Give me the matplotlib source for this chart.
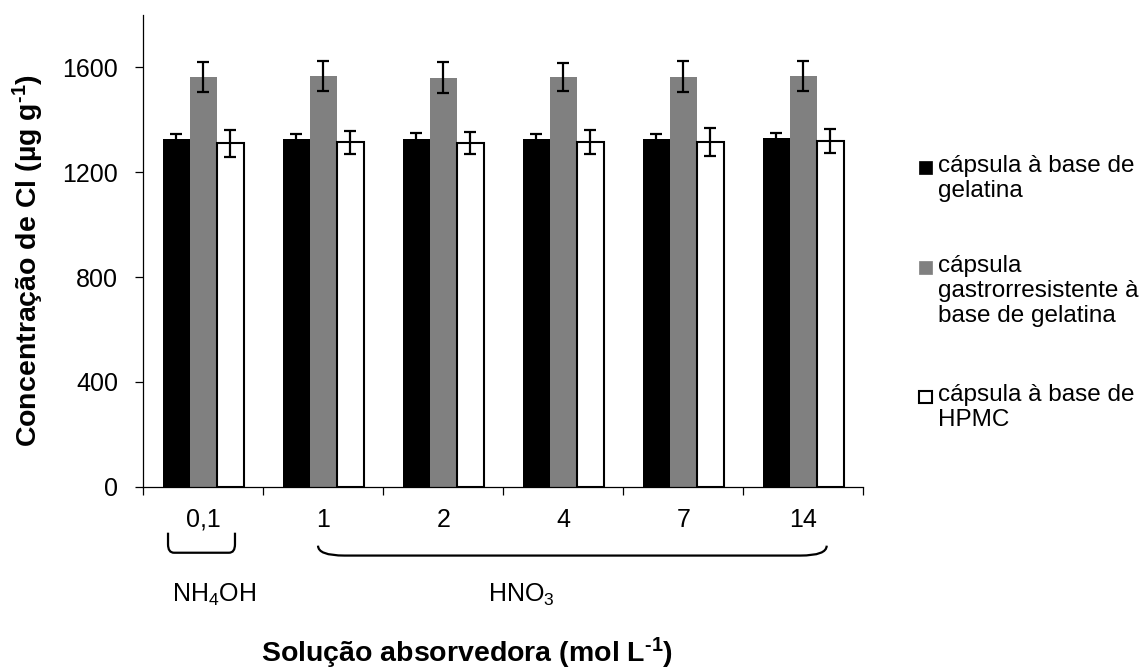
import numpy as np
import matplotlib
matplotlib.use("Agg")
import matplotlib.pyplot as plt
from matplotlib.path import Path
from matplotlib.patches import PathPatch, Rectangle
from matplotlib.transforms import blended_transform_factory

plt.rcParams.update({
    "font.family": ["Liberation Sans", "DejaVu Sans"],
    "mathtext.fontset": "custom",
    "mathtext.rm": "Liberation Sans",
    "mathtext.it": "Liberation Sans:italic",
    "mathtext.bf": "Liberation Sans:bold",
})

# ---- data ----
CONC = ["0,1", "1", "2", "4", "7", "14"]
SERIES = ["cápsula à base de\ngelatina",
          "cápsula\ngastrorresistente à\nbase de gelatina",
          "cápsula à base de\nHPMC"]
gelatina = [1325, 1325, 1326, 1327, 1325, 1331]
gelatina_err = [19, 19, 22, 18, 19, 18]
gastro = [1563, 1568, 1561, 1563, 1565, 1566]
gastro_err = [56, 57, 60, 54, 60, 57]
hpmc = [1310, 1315, 1312, 1317, 1314, 1319]
hpmc_err = [51, 44, 43, 46, 53, 46]

W, H = 1141, 671
fig = plt.figure(figsize=(W / 100, H / 100), dpi=100)
ax = fig.add_axes([143.3 / W, 1 - 486.7 / H, 720 / W, 471.7 / H])


def px(x, y):
    """pixel position (from top-left) -> figure fraction"""
    return x / W, 1 - y / H


x = np.arange(len(CONC))
bw = 0.225
styles = [(gelatina, gelatina_err, "black", "black", 0),
          (gastro, gastro_err, "#808080", "#808080", 0),
          (hpmc, hpmc_err, "white", "black", 1.5)]
for i, (vals, err, fc, ec, lw) in enumerate(styles):
    xx = x + (i - 1) * bw
    ax.bar(xx, vals, bw, color=fc, edgecolor=ec, linewidth=lw, zorder=2)
    ax.errorbar(xx, vals, yerr=err, fmt="none", ecolor="black",
                elinewidth=1.6, capsize=4.5, capthick=1.6, zorder=3)

ax.set_xlim(-0.5, len(CONC) - 0.5)
ax.set_ylim(0, 1800)
ax.set_yticks([0, 400, 800, 1200, 1600])
ax.set_xticks(x)
ax.set_xticklabels(CONC)
ax.set_xticks(np.arange(len(CONC) + 1) - 0.5, minor=True)
ax.tick_params(axis="x", which="major", length=0, pad=15, labelsize=18)
ax.tick_params(axis="x", which="minor", length=6, width=0.9, direction="out")
ax.tick_params(axis="y", length=6, width=0.9, pad=12, labelsize=18)
ax.spines[["top", "right"]].set_visible(False)
for s in ("left", "bottom"):
    ax.spines[s].set_linewidth(0.9)

# braces grouping the absorbing solutions
tr = blended_transform_factory(ax.transData, ax.transAxes)


def brace(x0, x1, ytop, ybot, rx, ry):
    verts = [(x0, ytop), (x0, ybot + ry), (x0, ybot), (x0 + rx, ybot),
             (x1 - rx, ybot), (x1, ybot), (x1, ybot + ry), (x1, ytop)]
    codes = [Path.MOVETO, Path.LINETO, Path.CURVE3, Path.CURVE3,
             Path.LINETO, Path.CURVE3, Path.CURVE3, Path.LINETO]
    ax.add_patch(PathPatch(Path(verts, codes), fill=False, lw=1.6,
                           color="black", transform=tr, clip_on=False))


brace(-0.294, 0.264, -0.0975, -0.140, 0.05, 0.018)
brace(0.956, 5.195, -0.125, -0.146, 0.22, 0.021)
ax.text(0.089, -0.229, r"NH$_4$OH", transform=tr, ha="center", va="center",
        fontsize=18)
ax.text(2.653, -0.229, r"HNO$_3$", transform=tr, ha="center", va="center",
        fontsize=18)

# axis titles (superscript uses a plain hyphen, as in the original)
fig.text(*px(28, 260), "Concentração de Cl (µg g$^{\\mathbf{\u2010}\\mathbf{1}}$)",
         rotation=90, ha="center", va="center", fontsize=20.5,
         fontweight="bold")
fig.text(*px(467, 653), "Solução absorvedora (mol L$^{\\mathbf{\u2010}\\mathbf{1}}$)",
         ha="center", va="center", fontsize=20.5, fontweight="bold")

# legend, drawn entry by entry so the key sits beside the first line
first_line = [168, 268, 397]
for lab, (_, _, fc, ec, lw), yy in zip(SERIES, styles, first_line):
    x0, y0 = px(919, yy + 6)
    fig.patches.append(Rectangle((x0, y0), 12.5 / W, 12.5 / H, facecolor=fc,
                                 edgecolor=ec, linewidth=max(lw, 0.5),
                                 transform=fig.transFigure, figure=fig))
    fig.text(*px(938, yy - 13), lab, ha="left", va="top", fontsize=17.5,
             linespacing=1.17)

fig.savefig("out.png", dpi=100)
